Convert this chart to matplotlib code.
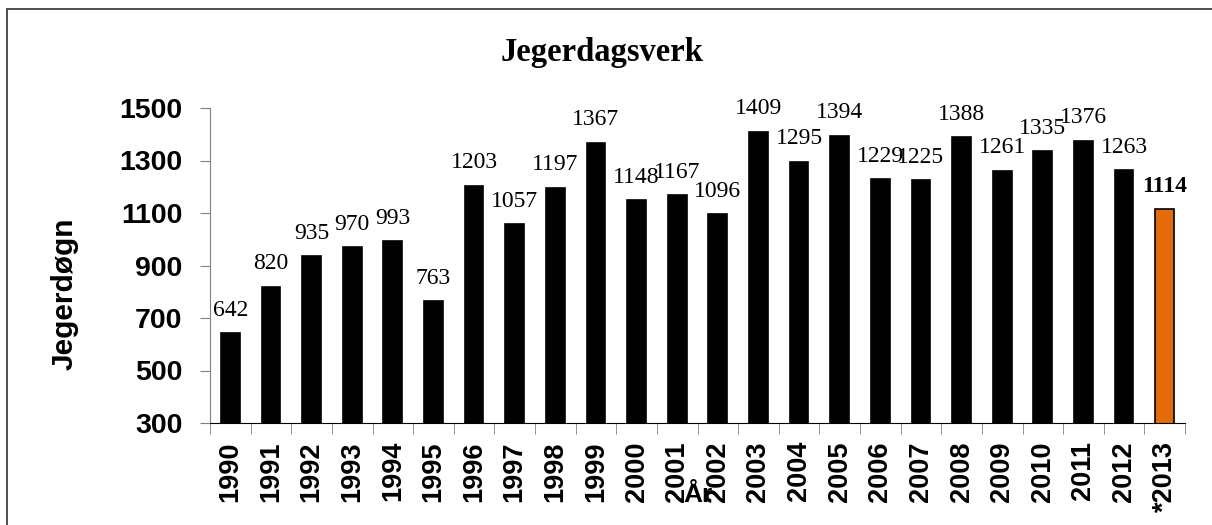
import matplotlib.pyplot as plt
from matplotlib.patches import Rectangle

# data
years = ['1990', '1991', '1992', '1993', '1994', '1995', '1996', '1997', '1998',
         '1999', '2000', '2001', '2002', '2003', '2004', '2005', '2006', '2007',
         '2008', '2009', '2010', '2011', '2012', '*2013']
jegerdogn = [642, 820, 935, 970, 993, 763, 1203, 1057, 1197, 1367, 1148, 1167,
             1096, 1409, 1295, 1394, 1229, 1225, 1388, 1261, 1335, 1376, 1263, 1114]
yticks = [300, 500, 700, 900, 1100, 1300, 1500]

sans = ['Liberation Sans', 'Arial', 'DejaVu Sans']
serif = ['Liberation Serif', 'Times New Roman', 'DejaVu Serif']

fig = plt.figure(figsize=(12.12, 5.25), dpi=100)
ax = fig.add_axes([210 / 1212, 102 / 525, 975 / 1212, 315 / 525])

# outer frame (right and bottom edges fall outside the image)
fig.patches.append(Rectangle((7 / 1212, -0.1), 1.2, 1.1 - 9 / 525,
                             transform=fig.transFigure, fill=False,
                             edgecolor='#404040', linewidth=1.3))

x = list(range(len(years)))
colors = ['black'] * (len(years) - 1) + ['#E36C0A']
ax.bar(x, jegerdogn, width=0.46, color=colors, edgecolor='black', linewidth=1.2,
       zorder=2)

for i, v in enumerate(jegerdogn):
    last = i == len(jegerdogn) - 1
    ax.annotate(str(v), (i, v), xytext=(0, 9), textcoords='offset points',
                ha='center', va='bottom', fontsize=17, family=serif,
                fontweight='bold' if last else 'normal', clip_on=False)

ax.set_xlim(-0.5, len(years) - 0.5)
ax.set_ylim(300, 1500)
ax.set_yticks(yticks)
ax.set_yticklabels([str(t) for t in yticks], family=sans, fontweight='bold', fontsize=20.5)
ax.set_xticks(x)
ax.set_xticklabels(years, rotation=90, family=sans, fontweight='bold', fontsize=19.5)
ax.set_xticks([i - 0.5 for i in range(len(years) + 1)], minor=True)
ax.tick_params(axis='x', which='major', length=0, pad=13)
ax.tick_params(axis='x', which='minor', length=8, color='#808080', direction='out')
ax.tick_params(axis='y', length=7, color='#808080', pad=13)

for s in ['top', 'right']:
    ax.spines[s].set_visible(False)
ax.spines['left'].set_color('#808080')
ax.spines['bottom'].set_color('black')

fig.text(602 / 1212, 1 - 52 / 525, 'Jegerdagsverk', ha='center', va='center',
         family=serif, fontweight='bold', fontsize=23.5)
fig.text(65 / 1212, 1 - 294 / 525, 'Jegerdøgn', ha='center', va='center',
         rotation=90, family=sans, fontweight='bold', fontsize=21.5)
fig.text(698 / 1212, 1 - 495 / 525, 'År', ha='center', va='center',
         family=sans, fontweight='bold', fontsize=19)

fig.savefig('out.png', dpi=100)
